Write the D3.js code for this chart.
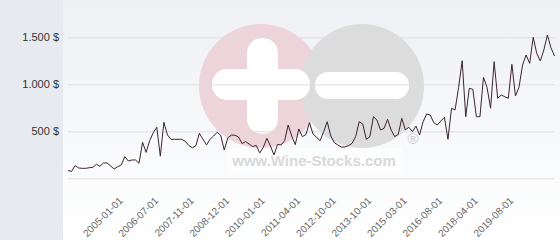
<!DOCTYPE html>
<html lang="en">
<head>
<meta charset="UTF-8">
<title>Wine price history</title>
<script src="https://cdn.jsdelivr.net/npm/d3@7/dist/d3.min.js"></script>
<style>
  body { margin: 0; background: #fff; }
  svg { display: block; font-family: "DejaVu Sans", sans-serif; }
</style>
</head>
<body>
<script>
// price per auction, in $
var values = [
  82, 74, 135, 110, 106, 106, 113, 117, 149, 128,
  163, 163, 131, 99, 124, 142, 230, 184, 195, 195,
  160, 383, 275, 400, 485, 543, 235, 596, 461, 415,
  415, 415, 415, 395, 350, 325, 345, 479, 415, 355,
  415, 450, 490, 457, 301, 430, 460, 458, 440, 370,
  390, 365, 337, 350, 270, 330, 425, 344, 248, 360,
  355, 400, 567, 450, 358, 525, 443, 465, 592, 471,
  436, 400, 496, 602, 450, 379, 354, 333, 333, 347,
  372, 443, 602, 578, 415, 443, 655, 620, 514, 532,
  627, 514, 443, 468, 638, 514, 543, 496, 556, 461,
  602, 684, 673, 592, 567, 610, 649, 415, 745, 727,
  968, 1251, 655, 957, 947, 655, 655, 1074, 968, 745,
  1241, 851, 886, 868, 851, 1213, 876, 968, 1205, 1312,
  1223, 1500, 1330, 1248, 1365, 1525, 1389, 1301
];

// category labels shown on the x axis and the point they belong to
var tickLabels = ["2005-01-01", "2006-07-01", "2007-11-01", "2008-12-01", "2010-01-01", "2011-04-01",
                  "2012-10-01", "2013-10-01", "2015-03-01", "2016-08-01", "2018-04-01", "2019-08-01"];
var tickIndex = [16, 26, 36, 46, 56, 66, 76, 86, 96, 106, 116, 126];

var yTicks = [0, 500, 1000, 1500];

var w = 560;
var h = 240;
var plotLeft = 63;

var svg = d3.select('body')
  .append('svg')
  .attr('width', w)
  .attr('height', h);

var defs = svg.append('defs');
var grad = defs.append('linearGradient')
  .attr('id', 'bg')
  .attr('x1', 0).attr('y1', 0).attr('x2', 0).attr('y2', 1);
grad.append('stop').attr('offset', '0%').attr('stop-color', '#eef0f4');
grad.append('stop').attr('offset', '100%').attr('stop-color', '#ffffff');

// left panel + plot background
svg.append('rect').attr('x', 0).attr('y', 0).attr('width', plotLeft).attr('height', h).attr('fill', '#e7eaee');
svg.append('rect').attr('x', plotLeft).attr('y', 0).attr('width', w - plotLeft).attr('height', h).attr('fill', 'url(#bg)');

var xScale = d3.scaleLinear()
  .domain([0, values.length - 1])
  .range([68, 554.5]);

var yScale = d3.scaleLinear()
  .domain([0, 1500])
  .range([178.3, 37.3]);

// watermark logo
var logo = svg.append('g');
logo.append('circle').attr('cx', 261).attr('cy', 86).attr('r', 62).attr('fill', '#ecd4da');
logo.append('circle').attr('cx', 362).attr('cy', 86).attr('r', 62).attr('fill', '#dcdcdd');
logo.append('rect').attr('x', 212).attr('y', 69).attr('width', 98).attr('height', 31).attr('rx', 15).attr('fill', '#fff');
logo.append('rect').attr('x', 247).attr('y', 38).attr('width', 31).attr('height', 96).attr('rx', 15).attr('fill', '#fff');
logo.append('rect').attr('x', 315).attr('y', 72).attr('width', 94).attr('height', 27).attr('rx', 13).attr('fill', '#fff');
logo.append('rect').attr('x', 226).attr('y', 148).attr('width', 176).attr('height', 24).attr('fill', '#fff').attr('opacity', 0.6);
logo.append('text')
  .attr('x', 314).attr('y', 166)
  .attr('text-anchor', 'middle')
  .attr('font-family', '"Liberation Sans", Arial, sans-serif')
  .attr('font-weight', 'bold')
  .attr('font-size', '15px')
  .attr('fill', '#d9d9d9')
  .text('www.Wine-Stocks.com');
logo.append('text')
  .attr('x', 413).attr('y', 144)
  .attr('text-anchor', 'middle')
  .attr('font-family', '"Liberation Sans", Arial, sans-serif')
  .attr('font-weight', 'bold')
  .attr('font-size', '15px')
  .attr('fill', '#d6d6d6')
  .text('®');

// grid lines + y labels
var yAxis = d3.axisLeft(yScale)
  .tickValues(yTicks)
  .tickSize(-(555 - 68))
  .tickPadding(9)
  .tickFormat(d => d === 0 ? '' : d3.format(',')(d).replace(',', '.') + ' $');

var gy = svg.append('g')
  .attr('class', 'y axis')
  .attr('transform', 'translate(68,0)')
  .call(yAxis);
gy.select('.domain').remove();
gy.selectAll('line').attr('stroke', '#dedede');
gy.selectAll('text').attr('fill', '#333').attr('font-size', '11px');

// x labels
var xAxis = d3.axisBottom(xScale)
  .tickValues(tickIndex)
  .tickSize(0)
  .tickFormat((d, i) => tickLabels[i]);

var gx = svg.append('g')
  .attr('class', 'x axis')
  .attr('transform', 'translate(0,178.3)')
  .call(xAxis);
gx.select('.domain').remove();
gx.selectAll('text')
  .attr('fill', '#666')
  .attr('font-size', '10px')
  .attr('text-anchor', 'end')
  .attr('y', 0)
  .attr('dy', 0)
  .attr('transform', 'translate(-2,23) rotate(-45)');

// price line
var line = d3.line()
  .x((d, i) => xScale(i))
  .y(d => yScale(d));

svg.append('path')
  .datum(values)
  .attr('d', line)
  .attr('fill', 'none')
  .attr('stroke', '#3b2530')
  .attr('stroke-width', 1)
  .attr('stroke-linejoin', 'round');
</script>
</body>
</html>
